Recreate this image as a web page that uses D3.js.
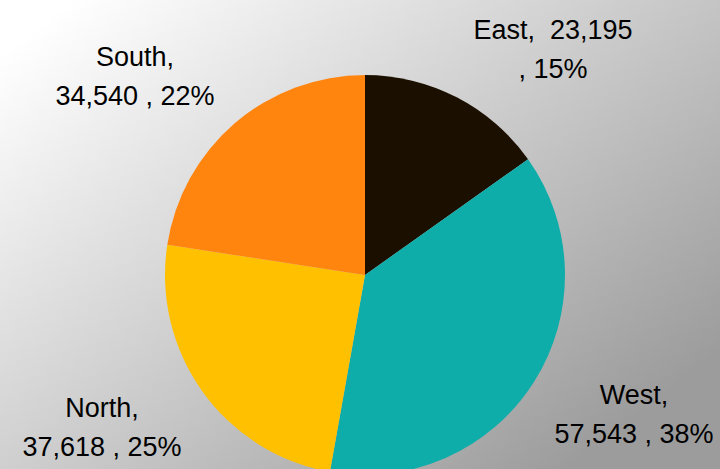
<!DOCTYPE html>
<html>
<head>
<meta charset="utf-8">
<title>pie_regions</title>
<script src="https://d3js.org/d3.v7.min.js"></script>
<style>
  body { margin: 0; }
</style>
</head>
<body>
<svg id="container" width="720" height="469"></svg>
<script>
  // data
  let regions = ["East", "West", "North", "South"]
  let values = [23195, 57543, 37618, 34540]
  let pctLabels = ["15%", "38%", "25%", "22%"]
  let colors = ["#1b0f00", "#0fadaa", "#ffc000", "#ff850f"]

  let svg = d3.select('#container')
  let width = 720, height = 469

  // background gradient
  let defs = svg.append("defs")
  let grad = defs.append("linearGradient")
      .attr("id", "bg")
      .attr("x1", "0.1").attr("y1", "0")
      .attr("x2", "1").attr("y2", "0.75")
  grad.append("stop").attr("offset", "0").attr("stop-color", "#ffffff")
  grad.append("stop").attr("offset", "1").attr("stop-color", "#9c9c9c")
  svg.append("rect").attr("width", width).attr("height", height)
      .attr("fill", "url(#bg)")

  let cx = 365, cy = 275, radius = 200
  let body = svg.append("g").attr("transform", `translate(${cx},${cy})`)

  let data = regions.map((r, i) => ({ region: r, value: values[i], pct: pctLabels[i], color: colors[i] }))

  let pie = d3.pie().sort(null).value(d => d.value)
  let arc = d3.arc().innerRadius(0).outerRadius(radius)

  body.selectAll("path").data(pie(data))
      .enter().append("path")
      .attr("d", arc)
      .attr("fill", d => d.data.color)

  // label positions (outside the pie, as placed in the picture)
  let fmt = d3.format(",")
  let lineGap = 39
  let labelPos = {
    East:  { x: 553, y: 39, lines: d => [d.region + ",  " + fmt(d.value), ", " + d.pct] },
    West:  { x: 634, y: 404, lines: d => [d.region + ",", fmt(d.value) + " , " + d.pct] },
    North: { x: 102, y: 417, lines: d => [d.region + ",", fmt(d.value) + " , " + d.pct] },
    South: { x: 135, y: 66, lines: d => [d.region + ",", fmt(d.value) + " , " + d.pct] }
  }

  let labels = svg.append("g")
      .attr("font-family", "'Liberation Sans', Arial, sans-serif")
      .attr("font-size", 27)
      .attr("fill", "#000")
      .attr("text-anchor", "middle")

  for (let d of data) {
    let p = labelPos[d.region]
    let t = labels.append("text").attr("x", p.x)
    p.lines(d).forEach((line, i) => {
      t.append("tspan").attr("x", p.x).attr("y", p.y + i * lineGap)
          .attr("xml:space", "preserve")
          .text(line)
    })
  }
</script>
</body>
</html>
